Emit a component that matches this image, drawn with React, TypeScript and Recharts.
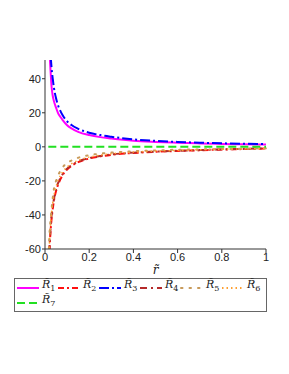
import { Line, LineChart, XAxis, YAxis } from "recharts";

const rValues = [
  0.015, 0.02, 0.025, 0.03, 0.035, 0.04, 0.05, 0.06, 0.07, 0.08, 0.1, 0.12,
  0.15, 0.2, 0.25, 0.3, 0.4, 0.5, 0.6, 0.7, 0.8, 0.9, 1,
];
const r1 = [80, 58, 45, 35, 30, 27, 23, 19.5, 17.5, 15.7, 12.7, 10.8, 8.8, 6.9, 5.7, 4.9, 3.6, 2.9, 2.4, 2, 1.7, 1.5, 1.3];
const r2 = [-86, -62, -50, -42, -36.5, -32, -26, -22, -19, -16.5, -13.3, -11.2, -9, -6.9, -5.6, -4.7, -3.6, -2.9, -2.4, -2, -1.6, -1.3, -1];
const r3 = [95, 70, 55, 46, 40, 35, 28.5, 24, 21, 18.5, 15, 12.8, 10.6, 8.3, 6.9, 5.9, 4.4, 3.5, 2.9, 2.4, 2.1, 1.8, 1.6];
const r4 = [-82, -60, -48, -40, -35, -31, -25, -21, -18.2, -16, -12.8, -10.8, -8.7, -6.6, -5.4, -4.5, -3.4, -2.8, -2.3, -1.9, -1.5, -1.2, -0.9];
const r5 = [-70, -52, -43, -36, -30, -25, -20, -16.5, -14, -12, -9.5, -8, -6.4, -4.9, -4, -3.4, -2.6, -2.1, -1.7, -1.5, -1.3, -1.1, -0.9];
const r6 = [-78, -57, -46, -38, -33, -29, -23.5, -19.5, -16.8, -14.7, -11.8, -9.9, -8, -6, -4.9, -4.1, -3.1, -2.5, -2.1, -1.7, -1.4, -1.2, -1];
const r7 = [0, 0, 0, 0, 0, 0, 0, 0, 0, 0, 0, 0, 0, 0, 0, 0, 0, 0, 0, 0, 0, 0, 0];

const xTicks = [0, 0.2, 0.4, 0.6, 0.8, 1];
const yTicks = [-60, -40, -20, 0, 20, 40];

const series = [
  { key: "R1", sub: "1", values: r1, color: "#ff00ff", dash: undefined, w: 2 },
  { key: "R2", sub: "2", values: r2, color: "#ff1010", dash: "6 3 2 3", w: 2 },
  { key: "R3", sub: "3", values: r3, color: "#0000ff", dash: "10 3 2 3", w: 2 },
  { key: "R4", sub: "4", values: r4, color: "#b52a2a", dash: "7 4 2 4", w: 2 },
  { key: "R5", sub: "5", values: r5, color: "#c89a5a", dash: "1.5 7", w: 2 },
  { key: "R6", sub: "6", values: r6, color: "#ffa030", dash: "1.5 3", w: 1.5 },
  { key: "R7", sub: "7", values: r7, color: "#22e022", dash: "8 4", w: 2 },
];

const data = rValues.map((r, i) => {
  const row: Record<string, number> = { r };
  series.forEach((s) => {
    row[s.key] = s.values[i];
  });
  return row;
});

const tickStyle = { fontSize: 11, fill: "#222", fontFamily: "Liberation Sans, Arial, sans-serif" };

export default function App() {
  return (
    <div style={{ position: "relative", width: 281, height: 320 }}>
      <LineChart
        width={270}
        height={290}
        data={data}
        margin={{ top: 52, right: 12, left: 0, bottom: 19 }}
      >
        <XAxis
          dataKey="r"
          type="number"
          domain={[0, 1]}
          ticks={xTicks}
          tickFormatter={(v) => String(v)}
          tick={tickStyle}
          tickSize={4}
          tickMargin={0}
          height={30}
          stroke="#333"
          label={{
            value: "r\u0303",
            position: "insideBottom",
            offset: 5,
            style: { fontStyle: "italic", fontFamily: "DejaVu Serif, serif", fontSize: 12, fill: "#222" },
          }}
        />
        <XAxis
          xAxisId="top"
          orientation="top"
          type="number"
          domain={[0, 1]}
          dataKey="r"
          tick={false}
          tickLine={false}
          height={0}
          stroke="#999"
        />
        <YAxis
          type="number"
          domain={[-60, 51]}
          allowDataOverflow
          ticks={yTicks}
          tick={tickStyle}
          tickSize={3}
          tickMargin={1}
          width={37}
          stroke="#333"
        />
        <YAxis
          yAxisId="right"
          orientation="right"
          type="number"
          domain={[-60, 51]}
          tick={false}
          tickLine={false}
          width={0}
          stroke="#444"
        />
        {series.map((s) => (
          <Line
            key={s.key}
            dataKey={s.key}
            type="monotone"
            stroke={s.color}
            strokeWidth={s.w}
            strokeDasharray={s.dash}
            strokeLinecap={s.key === "R5" ? "round" : "butt"}
            dot={false}
            isAnimationActive={false}
          />
        ))}
      </LineChart>
      <div
        style={{
          position: "absolute",
          left: 6,
          top: 270,
          width: 253,
          height: 34,
          boxSizing: "border-box",
          border: "1px solid #666",
          display: "flex",
          flexWrap: "wrap",
          alignContent: "flex-start",
          paddingLeft: 1,
          paddingTop: 1,
          fontFamily: "DejaVu Serif, serif",
        }}
      >
        {series.map((s) => (
          <div key={s.key} style={{ width: 41, height: 15, display: "flex", alignItems: "center" }}>
            <svg width={24} height={6} style={{ flexShrink: 0 }}>
              <line
                x1={1}
                y1={3}
                x2={23}
                y2={3}
                stroke={s.color}
                strokeWidth={2}
                strokeDasharray={s.dash}
                strokeLinecap={s.key === "R5" ? "round" : "butt"}
              />
            </svg>
            <span style={{ fontSize: 11, fontStyle: "italic", color: "#222", marginLeft: 2, lineHeight: "12px", whiteSpace: "nowrap" }}>
              {"R\u0303"}
              <sub style={{ fontSize: 8, fontStyle: "normal" }}>{s.sub}</sub>
            </span>
          </div>
        ))}
      </div>
    </div>
  );
}
